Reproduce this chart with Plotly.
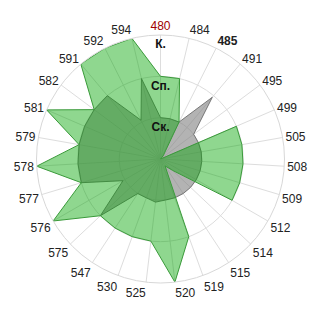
import plotly.graph_objects as go

categories = ['480', '484', '485', '491', '495', '499', '505', '508', '509', '512',
              '514', '515', '519', '520', '525', '530', '547', '575', '576', '577',
              '578', '579', '581', '582', '591', '592', '594']
green_values = [2, 2, 1, 0.1, 0, 2, 2, 2, 2, 2,
                0.4, 0.2, 2, 3, 2, 2, 2, 2, 3, 2,
                3, 2, 3, 2, 3, 3, 3]
gray_values = [1, 1, 1, 1.95, 1, 1, 1, 1, 1, 1,
               1, 1, 1, 1, 1.05, 1, 1, 2, 1.05, 2,
               2, 2, 2, 2, 2, 1.05, 2]
level_labels = ['Ск.', 'Сп.', 'К.']
level_values = [1, 2, 3]
red_label = '480'
bold_label = '485'

def closed(vals):
    return list(vals) + [vals[0]]

tick_text = []
for c in categories:
    if c == red_label:
        tick_text.append('<span style="color:#a00000">%s</span>' % c)
    elif c == bold_label:
        tick_text.append('<b>%s</b>' % c)
    else:
        tick_text.append(c)

fig = go.Figure()
fig.add_trace(go.Scatterpolar(
    r=closed(gray_values), theta=closed(categories), mode='lines',
    fill='toself', fillcolor='rgba(128,128,128,0.6)',
    line=dict(color='rgba(110,110,110,0.9)', width=1), hoverinfo='skip'))
fig.add_trace(go.Scatterpolar(
    r=closed(green_values), theta=closed(categories), mode='lines',
    fill='toself', fillcolor='rgba(0,165,0,0.44)',
    line=dict(color='#3a9a3a', width=1), hoverinfo='skip'))
fig.add_trace(go.Scatterpolar(
    r=[v - 0.25 for v in level_values], theta=[categories[0]] * len(level_values),
    mode='text', text=['<b>%s</b>' % t for t in level_labels],
    textfont=dict(size=12, color='#111', family='Arial, Liberation Sans'),
    hoverinfo='skip'))

fig.update_layout(
    width=320, height=320,
    margin=dict(l=36, r=35, t=35, b=37),
    paper_bgcolor='white', plot_bgcolor='white',
    showlegend=False,
    font=dict(family='Arial, Liberation Sans', size=12, color='#222'),
    polar=dict(
        bgcolor='white',
        radialaxis=dict(range=[0, 3], tickvals=level_values, showticklabels=False,
                        ticks='', showline=False, gridcolor='#dddddd', gridwidth=1),
        angularaxis=dict(type='category', categoryarray=categories,
                         tickvals=categories, ticktext=tick_text,
                         direction='clockwise', rotation=90, ticks='',
                         linecolor='#d8d8d8', gridcolor='#dddddd',
                         tickfont=dict(size=12, color='#222')),
    ),
)
fig.write_html('out.html')
